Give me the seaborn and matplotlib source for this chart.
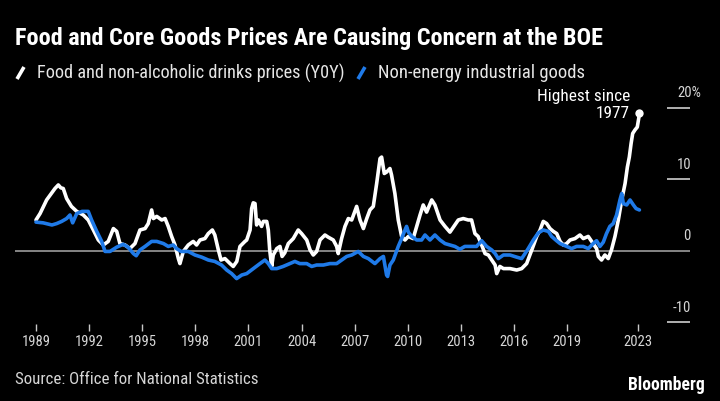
import numpy as np
import pandas as pd
import matplotlib
matplotlib.use("Agg")
import matplotlib.pyplot as plt
from matplotlib import font_manager
from matplotlib.lines import Line2D
import seaborn as sns

# ---------------- data ----------------
food_t = [1989.0, 1989.23, 1989.6, 1990.07, 1990.26, 1990.4, 1990.54, 1990.73, 1991.0, 1991.3,
          1991.67, 1991.95, 1992.24, 1992.52, 1992.8, 1993.08, 1993.37, 1993.56, 1993.74, 1994.03,
          1994.3, 1994.59, 1994.87, 1995.16, 1995.34, 1995.53, 1995.63, 1995.82, 1996.1, 1996.29,
          1996.47, 1996.66, 1996.85, 1997.04, 1997.13, 1997.32, 1997.6, 1997.88, 1998.07, 1998.26,
          1998.54, 1998.73, 1998.96, 1999.1, 1999.3, 1999.45, 1999.67, 1999.96, 2000.14, 2000.34,
          2000.52, 2000.8, 2000.9, 2001.09, 2001.18, 2001.27, 2001.37, 2001.46, 2001.56, 2001.74,
          2001.84, 2002.03, 2002.12, 2002.2, 2002.31, 2002.4, 2002.6, 2002.78, 2002.9, 2003.05,
          2003.25, 2003.53, 2003.81, 2004.0, 2004.29, 2004.48, 2004.66, 2004.85, 2005.04, 2005.32,
          2005.5, 2005.79, 2005.98, 2006.07, 2006.26, 2006.45, 2006.64, 2006.83, 2007.11, 2007.3,
          2007.49, 2007.68, 2007.86, 2008.05, 2008.24, 2008.43, 2008.52, 2008.67, 2008.8, 2008.99,
          2009.08, 2009.27, 2009.46, 2009.65, 2009.84, 2010.03, 2010.3, 2010.5, 2010.69, 2010.87,
          2011.06, 2011.35, 2011.53, 2011.82, 2012.1, 2012.38, 2012.66, 2012.85, 2013.13, 2013.41,
          2013.6, 2013.79, 2013.97, 2014.17, 2014.36, 2014.55, 2014.74, 2014.93, 2015.02, 2015.2,
          2015.4, 2015.77, 2016.15, 2016.43, 2016.71, 2017.0, 2017.28, 2017.47, 2017.65, 2017.84,
          2018.03, 2018.22, 2018.41, 2018.6, 2018.78, 2018.97, 2019.16, 2019.44, 2019.72, 2019.91,
          2020.19, 2020.47, 2020.66, 2020.76, 2020.94, 2021.13, 2021.32, 2021.5, 2021.7, 2021.89,
          2022.08, 2022.27, 2022.4, 2022.51, 2022.61, 2022.7, 2022.83, 2022.96, 2023.04, 2023.08]
food_v = [4.3, 5.2, 7.1, 8.7, 9.2, 8.8, 8.7, 7.3, 6.2, 5.5,
          5.0, 4.3, 2.9, 1.5, 0.8, 1.3, 3.1, 2.7, 1.0, 0.8,
          0.3, 1.0, 2.9, 3.1, 3.8, 5.7, 4.5, 4.8, 4.3, 4.5,
          3.4, 2.0, 0.8, -1.1, -1.8, -0.1, 0.8, 1.3, 0.8, 1.5,
          1.7, 2.4, 2.9, 2.2, 0.1, -1.3, -1.1, -1.8, -2.2, -1.5,
          0.6, 1.3, 1.5, 2.9, 5.9, 6.7, 6.6, 3.6, 4.3, 3.4,
          4.1, 4.1, 2.9, 0.1, -2.2, -0.6, 0.3, 0.6, -0.8, -0.3,
          1.0, 1.7, 2.9, 2.4, 1.5, 0.1, -0.6, -0.1, 1.5, 2.2,
          1.9, 1.5, 0.6, -0.4, 1.7, 3.4, 4.5, 4.3, 6.2, 4.3,
          3.1, 4.5, 5.7, 6.2, 9.4, 12.9, 13.1, 10.8, 11.0, 11.5,
          10.6, 8.0, 4.3, 2.0, 1.5, 2.0, 1.7, 3.4, 5.0, 6.4,
          5.4, 7.1, 6.4, 4.3, 3.4, 2.6, 3.6, 4.3, 4.5, 4.3,
          4.3, 2.4, 2.0, 0.8, -0.4, -0.6, -1.3, -2.0, -3.2, -2.2,
          -2.5, -2.5, -2.7, -2.5, -1.8, 0.1, 2.0, 2.9, 4.1, 3.8,
          3.1, 2.7, 2.4, 1.3, 0.8, 1.0, 1.5, 1.7, 2.2, 1.7,
          2.0, 1.0, 0.3, -0.8, -1.3, -0.6, -1.1, 0.1, 2.0, 4.3,
          7.1, 9.4, 11.7, 13.1, 15.0, 16.4, 16.9, 17.3, 18.5, 19.2]

neig_t = [1989.0, 1989.4, 1989.9, 1990.17, 1990.45, 1990.73, 1990.92, 1991.07, 1991.3, 1991.6,
          1991.95, 1992.14, 1992.43, 1992.71, 1992.9, 1993.18, 1993.56, 1993.93, 1994.2, 1994.5,
          1994.66, 1994.87, 1995.16, 1995.53, 1995.82, 1996.2, 1996.47, 1996.75, 1996.94, 1997.2,
          1997.6, 1997.98, 1998.36, 1998.73, 1999.1, 1999.48, 1999.77, 2000.05, 2000.33, 2000.62,
          2000.9, 2001.27, 2001.65, 2001.93, 2002.12, 2002.31, 2002.6, 2002.96, 2003.34, 2003.62,
          2003.9, 2004.29, 2004.57, 2004.85, 2005.23, 2005.6, 2005.98, 2006.26, 2006.55, 2006.83,
          2007.2, 2007.49, 2007.77, 2008.14, 2008.43, 2008.62, 2008.8, 2008.86, 2008.99, 2009.18,
          2009.46, 2009.65, 2009.84, 2009.93, 2010.03, 2010.22, 2010.5, 2010.78, 2010.97, 2011.25,
          2011.53, 2011.82, 2012.1, 2012.38, 2012.66, 2012.94, 2013.22, 2013.5, 2013.88, 2014.17,
          2014.45, 2014.74, 2014.93, 2015.11, 2015.4, 2015.77, 2016.15, 2016.43, 2016.62, 2016.8,
          2017.09, 2017.37, 2017.65, 2017.94, 2018.12, 2018.4, 2018.6, 2018.97, 2019.25, 2019.53,
          2019.91, 2020.19, 2020.47, 2020.66, 2020.85, 2021.04, 2021.22, 2021.41, 2021.6, 2021.79,
          2021.98, 2022.08, 2022.17, 2022.36, 2022.55, 2022.74, 2022.89, 2023.08]
neig_v = [4.0, 3.9, 3.6, 3.8, 4.1, 4.5, 5.0, 3.9, 5.2, 5.5,
          5.5, 4.3, 2.7, 1.3, -0.1, -0.1, 0.5, 0.9, 0.5, -0.4,
          -0.7, 0.1, 0.6, 1.3, 1.3, 1.0, 0.6, 0.8, 0.3, -0.1,
          -0.1, -0.6, -0.9, -1.3, -1.5, -2.0, -2.7, -3.2, -3.9, -3.4,
          -3.2, -2.5, -1.8, -1.3, -1.8, -2.5, -2.5, -2.2, -1.8, -1.5,
          -1.8, -1.8, -2.2, -2.0, -2.0, -1.8, -1.8, -1.3, -0.8, -0.6,
          -0.1, -0.8, -1.1, -1.8, -1.1, -0.8, -3.4, -3.6, -2.0, -1.3,
          0.6, 1.7, 2.9, 3.4, 2.6, 2.0, 1.5, 1.5, 2.2, 1.5,
          2.2, 1.5, 1.0, 0.8, 0.6, 0.2, 0.6, 0.6, 0.6, 1.4,
          0.6, 0.1, -0.4, -1.1, -0.6, -0.6, -0.9, -1.1, -0.4, 0.3,
          1.5, 2.5, 2.9, 2.7, 2.0, 1.4, 1.0, 0.6, 0.3, 0.6,
          0.6, 0.3, 1.0, 1.4, 0.6, 1.2, 2.4, 3.4, 3.8, 5.0,
          7.1, 8.0, 6.6, 6.4, 7.1, 6.4, 5.9, 5.7]

series_names = ["Food and non-alcoholic drinks prices (Y0Y)", "Non-energy industrial goods"]
x_ticks = [1989, 1992, 1995, 1998, 2001, 2004, 2007, 2010, 2013, 2016, 2019, 2023]
y_ticks = [20, 10, 0, -10]
y_tick_labels = ["20%", "10", "0", "-10"]

title = "Food and Core Goods Prices Are Causing Concern at the BOE"
source = "Source: Office for National Statistics"
note_lines = ["Highest since", "1977"]

# ---------------- styling ----------------
W, H = 720, 401
BG = "#000000"
WHITE = "#ffffff"
BLUE = "#1f7ae8"
GRID = "#8f8f8f"
TXT = "#d6d6d6"

sns.set_style("dark", {"axes.facecolor": BG, "figure.facecolor": BG})
available = {f.name for f in font_manager.fontManager.ttflist}
font = "DejaVu Sans"
for cand in ["Liberation Sans Narrow", "Roboto Condensed", "Open Sans Condensed", "Roboto", "Noto Sans"]:
    if cand in available:
        font = cand
        break
plt.rcParams["font.family"] = [font, "DejaVu Sans"]

df = pd.concat([
    pd.DataFrame({"year": food_t, "value": food_v, "series": series_names[0]}),
    pd.DataFrame({"year": neig_t, "value": neig_v, "series": series_names[1]}),
], ignore_index=True)

fig = plt.figure(figsize=(W / 100, H / 100), dpi=100)
fig.patch.set_facecolor(BG)

# pixel geometry
ax_l, ax_r, ax_t, ax_b = 15, 690, 90, 324
ax = fig.add_axes([ax_l / W, 1 - ax_b / H, (ax_r - ax_l) / W, (ax_b - ax_t) / H])
ax.set_facecolor(BG)

px_per_year = (638 - 36) / 34.0
def xdata(px):
    return 1989 + (px - 36) / px_per_year

ax.set_xlim(xdata(ax_l), xdata(ax_r))
ax.set_ylim(-10.25, 22.48)

ax.axhline(0, color=GRID, lw=1.3, zorder=1)

sns.lineplot(data=df, x="year", y="value", hue="series", hue_order=series_names,
             palette={series_names[0]: WHITE, series_names[1]: BLUE},
             estimator=None, sort=False, legend=False, lw=2.6, ax=ax, zorder=3)

ax.scatter([food_t[-1]], [food_v[-1]], s=36, color=WHITE, zorder=5, linewidths=0)

for s in ax.spines.values():
    s.set_visible(False)
ax.grid(False)
ax.set_xlabel("")
ax.set_ylabel("")
ax.set_yticks([])
ax.set_xticks(x_ticks)
ax.set_xticklabels([str(v) for v in x_ticks])
ax.tick_params(axis="x", colors="#c8c8c8", labelcolor=TXT, length=5, width=1,
               direction="out", pad=3, labelsize=10.5, bottom=True)

# right-hand value labels with short tick lines
ax.hlines([v for v in y_ticks if v != 0], xdata(667), xdata(691), color="#cfcfcf", lw=1.2, zorder=2)
for v, lab in zip(y_ticks, y_tick_labels):
    if lab.endswith("%"):
        ax.text(xdata(677), v + 2.05, lab, ha="left", va="center", color=TXT, fontsize=10.5)
    else:
        ax.text(xdata(691), v + 2.05, lab, ha="right", va="center", color=TXT, fontsize=10.5)

# texts
def fy(py):
    return 1 - py / H

t_title = fig.text(15 / W, fy(38), title, ha="left", va="center", color=WHITE,
                   fontsize=14.5, fontweight="bold")
t_leg1 = fig.text(37 / W, fy(73), series_names[0], ha="left", va="center", color="#e6e6e6", fontsize=11)
t_leg2 = fig.text(378 / W, fy(73), series_names[1], ha="left", va="center", color="#e6e6e6", fontsize=11)
fig.add_artist(Line2D([17 / W, 24 / W], [fy(79), fy(67)], color=WHITE, lw=2.6, solid_capstyle="butt"))
fig.add_artist(Line2D([358 / W, 365 / W], [fy(79), fy(67)], color=BLUE, lw=2.6, solid_capstyle="butt"))
t_src = fig.text(15 / W, fy(380), source, ha="left", va="center", color=TXT, fontsize=10.5)
t_bb = fig.text(705 / W, fy(385), "Bloomberg", ha="right", va="center", color=WHITE,
                fontsize=10.5, fontweight="bold")
t_n1 = fig.text(630 / W, fy(96), note_lines[0], ha="right", va="center", color=WHITE, fontsize=11)
t_n2 = fig.text(630 / W, fy(113), note_lines[1], ha="right", va="center", color=WHITE, fontsize=11)

# fit widths to the reference
renderer = fig.canvas.get_renderer()
for t, target in [(t_title, 590), (t_leg1, 308), (t_leg2, 207), (t_src, 246), (t_bb, 77), (t_n1, 92)]:
    w = t.get_window_extent(renderer).width
    t.set_fontsize(t.get_fontsize() * target / w)
t_n2.set_fontsize(t_n1.get_fontsize())

fig.savefig("out.png", dpi=100, facecolor=BG)
